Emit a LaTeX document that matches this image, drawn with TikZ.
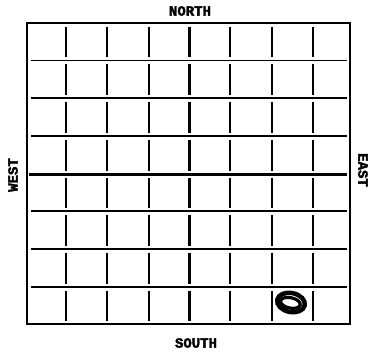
\documentclass[tikz,border=0pt]{standalone}
\usepackage{fontspec}
\newfontfamily\labelfont[FakeBold=2.5]{Liberation Mono}
\begin{document}
\begin{tikzpicture}[x=1pt,y=-1pt,
  frame/.style={line width=2.6pt},
  hline/.style={line width=1.4pt},
  vline/.style={line width=1.8pt},
  midline/.style={line width=3pt},
  compass/.style={font=\labelfont\bfseries\fontsize{14}{14}\selectfont, inner sep=0pt},
  markstroke/.style={line width=4.5pt}]
\useasboundingbox (0,0) rectangle (372,351);
% outer frame
\draw[frame] (27,23) rectangle (350,324);
% horizontal lines
\foreach \y in {60.5,98,136,211,249,287} \draw[hline] (31,\y) -- (347,\y);
\draw[midline] (29,174) -- (347,174);
% vertical segments, broken at each horizontal line
\def\rows{23/60.5,60.5/98,98/136,136/174,174/211,211/249,249/287,287/324}
\foreach \x in {66,107,149,230,272,313}{
  \foreach \a/\b in \rows { \draw[vline] (\x,\a+3.5) -- (\x,\b-3.5); }
}
\foreach \a/\b in \rows { \draw[midline] (189,\a+3.5) -- (189,\b-3.5); }
% the marked cell
\draw[markstroke, rotate around={-12:(291,302.5)}] (291,302.5) ellipse (14pt and 9.5pt);
\draw[line width=3.2pt, rotate around={-12:(291,302.5)}] (290.5,303) ellipse (10pt and 5.2pt);
% labels
\node[compass] (north) at (190,11) {NORTH};
\node[compass] (south) at (196,343) {SOUTH};
\node[compass, rotate=90] (west) at (13,175) {WEST};
\node[compass, rotate=-90] (east) at (363,170) {EAST};
\end{tikzpicture}
\end{document}
